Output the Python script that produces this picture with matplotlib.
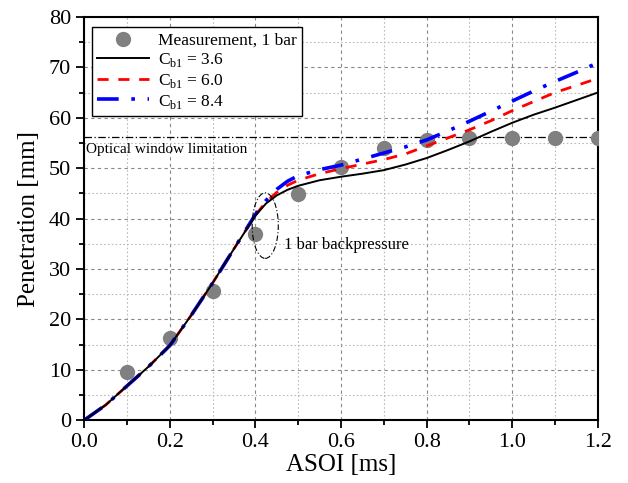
import matplotlib
matplotlib.use("Agg")
import matplotlib.pyplot as plt
from matplotlib.patches import Ellipse
from matplotlib.ticker import MultipleLocator

plt.rcParams["font.family"] = ["Liberation Serif", "DejaVu Serif"]
plt.rcParams["mathtext.fontset"] = "custom"
plt.rcParams["mathtext.rm"] = "Liberation Serif"

# measurement, 1 bar
meas_t = [0.1, 0.2, 0.3, 0.4, 0.5, 0.6, 0.7, 0.8, 0.9, 1.0, 1.1, 1.2]
meas_p = [9.5, 16.3, 25.7, 37.0, 44.8, 50.3, 54.0, 55.5, 56.0, 56.0, 56.0, 56.0]

# simulations
sim_t = [0.0, 0.05, 0.1, 0.15, 0.2, 0.25, 0.3, 0.35, 0.4, 0.425, 0.45, 0.475,
         0.5, 0.55, 0.6, 0.65, 0.7, 0.75, 0.8, 0.85, 0.9, 0.95, 1.0, 1.05,
         1.1, 1.15, 1.2]
cb_36 = [0.0, 3.0, 6.8, 10.6, 14.8, 20.8, 27.2, 34.0, 40.6, 43.0, 44.6, 45.7,
         46.5, 47.6, 48.3, 48.9, 49.6, 50.7, 52.0, 53.6, 55.3, 57.2, 59.0, 60.6,
         62.0, 63.5, 65.0]
cb_60 = [0.0, 3.0, 6.8, 10.6, 14.8, 20.8, 27.2, 34.0, 40.7, 43.3, 45.2, 46.6,
         47.6, 48.9, 49.9, 50.8, 51.7, 52.8, 54.4, 56.0, 57.6, 59.4, 61.4, 63.2,
         65.0, 66.4, 67.8]
cb_84 = [0.0, 3.0, 6.8, 10.6, 14.8, 20.8, 27.2, 34.0, 40.8, 43.6, 45.8, 47.4,
         48.5, 49.7, 50.6, 51.8, 53.0, 54.2, 55.6, 57.4, 59.3, 61.3, 63.3, 65.3,
         67.2, 69.0, 70.9]
window_limit = 56.2

fig, ax = plt.subplots(figsize=(6.28, 4.83), dpi=100)
fig.subplots_adjust(left=0.134, right=0.952, top=0.965, bottom=0.13)

ax.plot(meas_t, meas_p, "o", color="#808080", ms=10, zorder=3,
        label="Measurement, 1 bar")
ax.plot(sim_t, cb_36, "-", color="black", lw=1.4, zorder=5,
        label=r"C$_{\mathrm{b1}}$ = 3.6")
ax.plot(sim_t, cb_60, "--", color="red", lw=2, dashes=(4, 3.5), zorder=4,
        label=r"C$_{\mathrm{b1}}$ = 6.0")
ax.plot(sim_t, cb_84, "-.", color="blue", lw=2.6, dashes=(6, 3.5, 1, 3.5), zorder=4,
        label=r"C$_{\mathrm{b1}}$ = 8.4")

ax.axhline(window_limit, color="black", lw=0.9, ls=(0, (6, 2, 1, 2)), zorder=2)
ax.text(0.005, 53.6, "Optical window limitation", fontsize=11, va="center")

ax.add_patch(Ellipse((0.423, 38.6), 0.061, 13, fill=False, ec="black",
                     lw=0.8, ls=(0, (5, 2, 1, 2)), zorder=6))
ax.text(0.468, 34.8, "1 bar backpressure", fontsize=12, va="center")

ax.set_xlim(0, 1.2)
ax.set_ylim(0, 80)
ax.xaxis.set_major_locator(MultipleLocator(0.2))
ax.xaxis.set_minor_locator(MultipleLocator(0.1))
ax.yaxis.set_major_locator(MultipleLocator(10))
ax.yaxis.set_minor_locator(MultipleLocator(5))
ax.set_xticks([0, 0.2, 0.4, 0.6, 0.8, 1.0, 1.2],
              ["0.0", "0.2", "0.4", "0.6", "0.8", "1.0", "1.2"])
ax.grid(which="major", color="#888888", ls=(0, (3, 3)), lw=0.8)
ax.grid(which="minor", color="#bbbbbb", ls=(0, (1.5, 2)), lw=0.8)
ax.tick_params(which="both", direction="out", labelsize=16, width=1.3)
ax.tick_params(which="major", length=6)
ax.tick_params(which="minor", length=3.5)
for s in ax.spines.values():
    s.set_linewidth(1.5)

ax.set_xlabel("ASOI [ms]", fontsize=18, labelpad=1)
ax.set_ylabel("Penetration [mm]", fontsize=18, labelpad=6)

leg = ax.legend(loc="upper left", bbox_to_anchor=(0.0156, 0.974), fontsize=12.5,
                frameon=True, fancybox=False, edgecolor="black", framealpha=1,
                handlelength=3.0, handletextpad=0.5, labelspacing=0.15,
                borderpad=0.3, borderaxespad=0)
leg.get_frame().set_linewidth(1.0)

fig.savefig("out.png", dpi=100)
